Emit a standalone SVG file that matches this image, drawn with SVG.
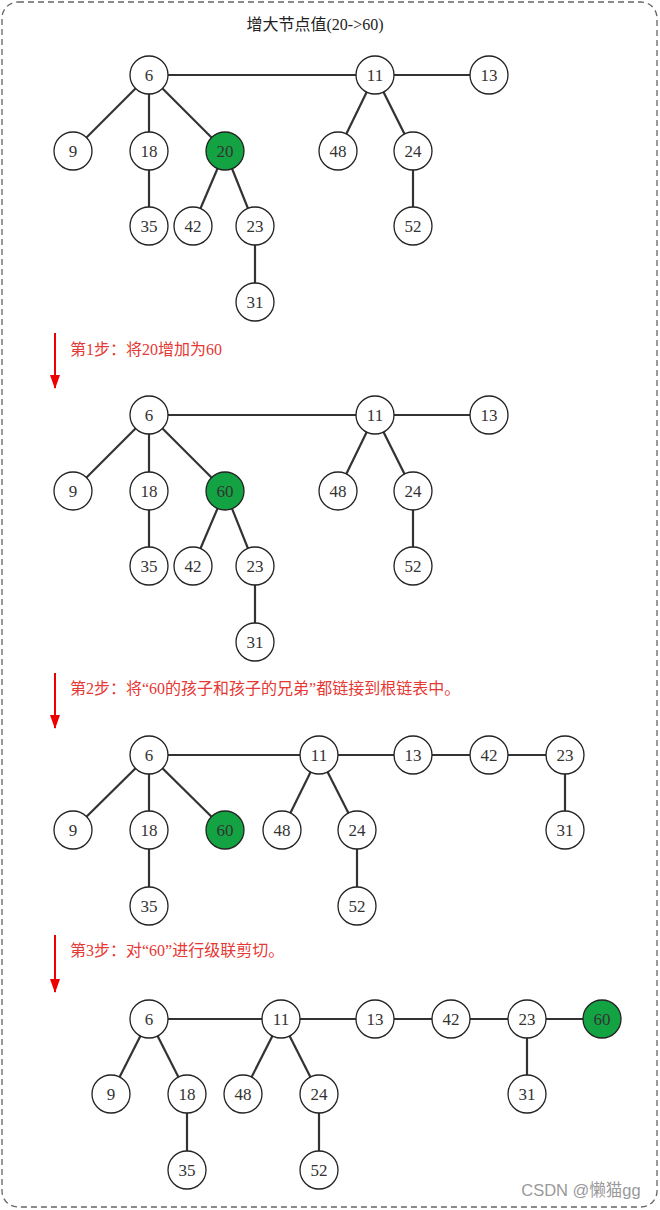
<svg xmlns="http://www.w3.org/2000/svg" width="660" height="1210" viewBox="0 0 660 1210">
<style>
.n circle{fill:#fff;stroke:#222;stroke-width:1.3}
.g circle{fill:#13a343}
text{font-family:"Liberation Serif","Noto Sans CJK SC",serif;font-size:17px;fill:#333;text-anchor:middle;dominant-baseline:central}
.e line{stroke:#333;stroke-width:2.2}
.s{fill:#e53935;font-size:16px;text-anchor:start}
.ar{stroke:#e00;stroke-width:2}
</style>
<defs><marker id="a" viewBox="0 0 14 10" refX="13" refY="5" markerWidth="7" markerHeight="5.5" orient="auto" markerUnits="strokeWidth"><path d="M0,0L14,5L0,10z" fill="#e00"/></marker></defs>
<rect x="2" y="2" width="655" height="1205" rx="16" fill="#fff" stroke="#666" stroke-width="1.3" stroke-dasharray="6,4"/>
<text x="315" y="24" style="font-size:16px;fill:#222">增大节点值(20-&gt;60)</text>
<g id="connectors" class="e">
<line x1="149" y1="75" x2="375" y2="75"/><line x1="375" y1="75" x2="489" y2="75"/>
<line x1="149" y1="75" x2="73" y2="151"/><line x1="149" y1="75" x2="149" y2="151"/><line x1="149" y1="75" x2="225" y2="151"/>
<line x1="149" y1="151" x2="149" y2="226"/><line x1="225" y1="151" x2="193" y2="226"/><line x1="225" y1="151" x2="255" y2="226"/><line x1="255" y1="226" x2="255" y2="302"/>
<line x1="375" y1="75" x2="338" y2="151"/><line x1="375" y1="75" x2="413" y2="151"/><line x1="413" y1="151" x2="413" y2="226"/>
<line x1="149" y1="415" x2="375" y2="415"/><line x1="375" y1="415" x2="489" y2="415"/>
<line x1="149" y1="415" x2="73" y2="491"/><line x1="149" y1="415" x2="149" y2="491"/><line x1="149" y1="415" x2="225" y2="491"/>
<line x1="149" y1="491" x2="149" y2="566"/><line x1="225" y1="491" x2="193" y2="566"/><line x1="225" y1="491" x2="255" y2="566"/><line x1="255" y1="566" x2="255" y2="642"/>
<line x1="375" y1="415" x2="338" y2="491"/><line x1="375" y1="415" x2="413" y2="491"/><line x1="413" y1="491" x2="413" y2="566"/>
<line x1="149" y1="755" x2="565" y2="755"/>
<line x1="149" y1="755" x2="73" y2="830"/><line x1="149" y1="755" x2="149" y2="830"/><line x1="149" y1="755" x2="225" y2="830"/><line x1="149" y1="830" x2="149" y2="906"/>
<line x1="319" y1="755" x2="282" y2="830"/><line x1="319" y1="755" x2="357" y2="830"/><line x1="357" y1="830" x2="357" y2="906"/><line x1="565" y1="755" x2="565" y2="830"/>
<line x1="149" y1="1019" x2="602" y2="1019"/>
<line x1="149" y1="1019" x2="111" y2="1094"/><line x1="149" y1="1019" x2="187" y2="1094"/><line x1="187" y1="1094" x2="187" y2="1170"/>
<line x1="281" y1="1019" x2="243" y2="1094"/><line x1="281" y1="1019" x2="319" y2="1094"/><line x1="319" y1="1094" x2="319" y2="1170"/><line x1="527" y1="1019" x2="527" y2="1094"/>
</g>
<g id="steps">
<line class="ar" x1="55" y1="333" x2="55" y2="388" marker-end="url(#a)"/><text class="s" x="70" y="349">第1步：将20增加为60</text>
<line class="ar" x1="55" y1="673" x2="55" y2="728" marker-end="url(#a)"/><text class="s" x="70" y="688">第2步：将“60的孩子和孩子的兄弟”都链接到根链表中。</text>
<line class="ar" x1="55" y1="935" x2="55" y2="992" marker-end="url(#a)"/><text class="s" x="70" y="950">第3步：对“60”进行级联剪切。</text>
</g>
<g id="t1-6" class="n"><circle cx="149" cy="75" r="19"/><text x="149" y="75">6</text></g>
<g id="t1-11" class="n"><circle cx="375" cy="75" r="19"/><text x="375" y="75">11</text></g>
<g id="t1-13" class="n"><circle cx="489" cy="75" r="19"/><text x="489" y="75">13</text></g>
<g id="t1-9" class="n"><circle cx="73" cy="151" r="19"/><text x="73" y="151">9</text></g>
<g id="t1-18" class="n"><circle cx="149" cy="151" r="19"/><text x="149" y="151">18</text></g>
<g id="t1-20" class="n g"><circle cx="225" cy="151" r="19"/><text x="225" y="151">20</text></g>
<g id="t1-48" class="n"><circle cx="338" cy="151" r="19"/><text x="338" y="151">48</text></g>
<g id="t1-24" class="n"><circle cx="413" cy="151" r="19"/><text x="413" y="151">24</text></g>
<g id="t1-35" class="n"><circle cx="149" cy="226" r="19"/><text x="149" y="226">35</text></g>
<g id="t1-42" class="n"><circle cx="193" cy="226" r="19"/><text x="193" y="226">42</text></g>
<g id="t1-23" class="n"><circle cx="255" cy="226" r="19"/><text x="255" y="226">23</text></g>
<g id="t1-52" class="n"><circle cx="413" cy="226" r="19"/><text x="413" y="226">52</text></g>
<g id="t1-31" class="n"><circle cx="255" cy="302" r="19"/><text x="255" y="302">31</text></g>
<g id="t2-6" class="n"><circle cx="149" cy="415" r="19"/><text x="149" y="415">6</text></g>
<g id="t2-11" class="n"><circle cx="375" cy="415" r="19"/><text x="375" y="415">11</text></g>
<g id="t2-13" class="n"><circle cx="489" cy="415" r="19"/><text x="489" y="415">13</text></g>
<g id="t2-9" class="n"><circle cx="73" cy="491" r="19"/><text x="73" y="491">9</text></g>
<g id="t2-18" class="n"><circle cx="149" cy="491" r="19"/><text x="149" y="491">18</text></g>
<g id="t2-60" class="n g"><circle cx="225" cy="491" r="19"/><text x="225" y="491">60</text></g>
<g id="t2-48" class="n"><circle cx="338" cy="491" r="19"/><text x="338" y="491">48</text></g>
<g id="t2-24" class="n"><circle cx="413" cy="491" r="19"/><text x="413" y="491">24</text></g>
<g id="t2-35" class="n"><circle cx="149" cy="566" r="19"/><text x="149" y="566">35</text></g>
<g id="t2-42" class="n"><circle cx="193" cy="566" r="19"/><text x="193" y="566">42</text></g>
<g id="t2-23" class="n"><circle cx="255" cy="566" r="19"/><text x="255" y="566">23</text></g>
<g id="t2-52" class="n"><circle cx="413" cy="566" r="19"/><text x="413" y="566">52</text></g>
<g id="t2-31" class="n"><circle cx="255" cy="642" r="19"/><text x="255" y="642">31</text></g>
<g id="t3-6" class="n"><circle cx="149" cy="755" r="19"/><text x="149" y="755">6</text></g>
<g id="t3-11" class="n"><circle cx="319" cy="755" r="19"/><text x="319" y="755">11</text></g>
<g id="t3-13" class="n"><circle cx="413" cy="755" r="19"/><text x="413" y="755">13</text></g>
<g id="t3-42" class="n"><circle cx="489" cy="755" r="19"/><text x="489" y="755">42</text></g>
<g id="t3-23" class="n"><circle cx="565" cy="755" r="19"/><text x="565" y="755">23</text></g>
<g id="t3-9" class="n"><circle cx="73" cy="830" r="19"/><text x="73" y="830">9</text></g>
<g id="t3-18" class="n"><circle cx="149" cy="830" r="19"/><text x="149" y="830">18</text></g>
<g id="t3-60" class="n g"><circle cx="225" cy="830" r="19"/><text x="225" y="830">60</text></g>
<g id="t3-48" class="n"><circle cx="282" cy="830" r="19"/><text x="282" y="830">48</text></g>
<g id="t3-24" class="n"><circle cx="357" cy="830" r="19"/><text x="357" y="830">24</text></g>
<g id="t3-31" class="n"><circle cx="565" cy="830" r="19"/><text x="565" y="830">31</text></g>
<g id="t3-35" class="n"><circle cx="149" cy="906" r="19"/><text x="149" y="906">35</text></g>
<g id="t3-52" class="n"><circle cx="357" cy="906" r="19"/><text x="357" y="906">52</text></g>
<g id="t4-6" class="n"><circle cx="149" cy="1019" r="19"/><text x="149" y="1019">6</text></g>
<g id="t4-11" class="n"><circle cx="281" cy="1019" r="19"/><text x="281" y="1019">11</text></g>
<g id="t4-13" class="n"><circle cx="375" cy="1019" r="19"/><text x="375" y="1019">13</text></g>
<g id="t4-42" class="n"><circle cx="451" cy="1019" r="19"/><text x="451" y="1019">42</text></g>
<g id="t4-23" class="n"><circle cx="527" cy="1019" r="19"/><text x="527" y="1019">23</text></g>
<g id="t4-60" class="n g"><circle cx="602" cy="1019" r="19"/><text x="602" y="1019">60</text></g>
<g id="t4-9" class="n"><circle cx="111" cy="1094" r="19"/><text x="111" y="1094">9</text></g>
<g id="t4-18" class="n"><circle cx="187" cy="1094" r="19"/><text x="187" y="1094">18</text></g>
<g id="t4-48" class="n"><circle cx="243" cy="1094" r="19"/><text x="243" y="1094">48</text></g>
<g id="t4-24" class="n"><circle cx="319" cy="1094" r="19"/><text x="319" y="1094">24</text></g>
<g id="t4-31" class="n"><circle cx="527" cy="1094" r="19"/><text x="527" y="1094">31</text></g>
<g id="t4-35" class="n"><circle cx="187" cy="1170" r="19"/><text x="187" y="1170">35</text></g>
<g id="t4-52" class="n"><circle cx="319" cy="1170" r="19"/><text x="319" y="1170">52</text></g>
<text x="581" y="1190" style="font-family:'Liberation Sans','Noto Sans CJK SC',sans-serif;font-size:16.5px;fill:#999">CSDN @懒猫gg</text>
</svg>
